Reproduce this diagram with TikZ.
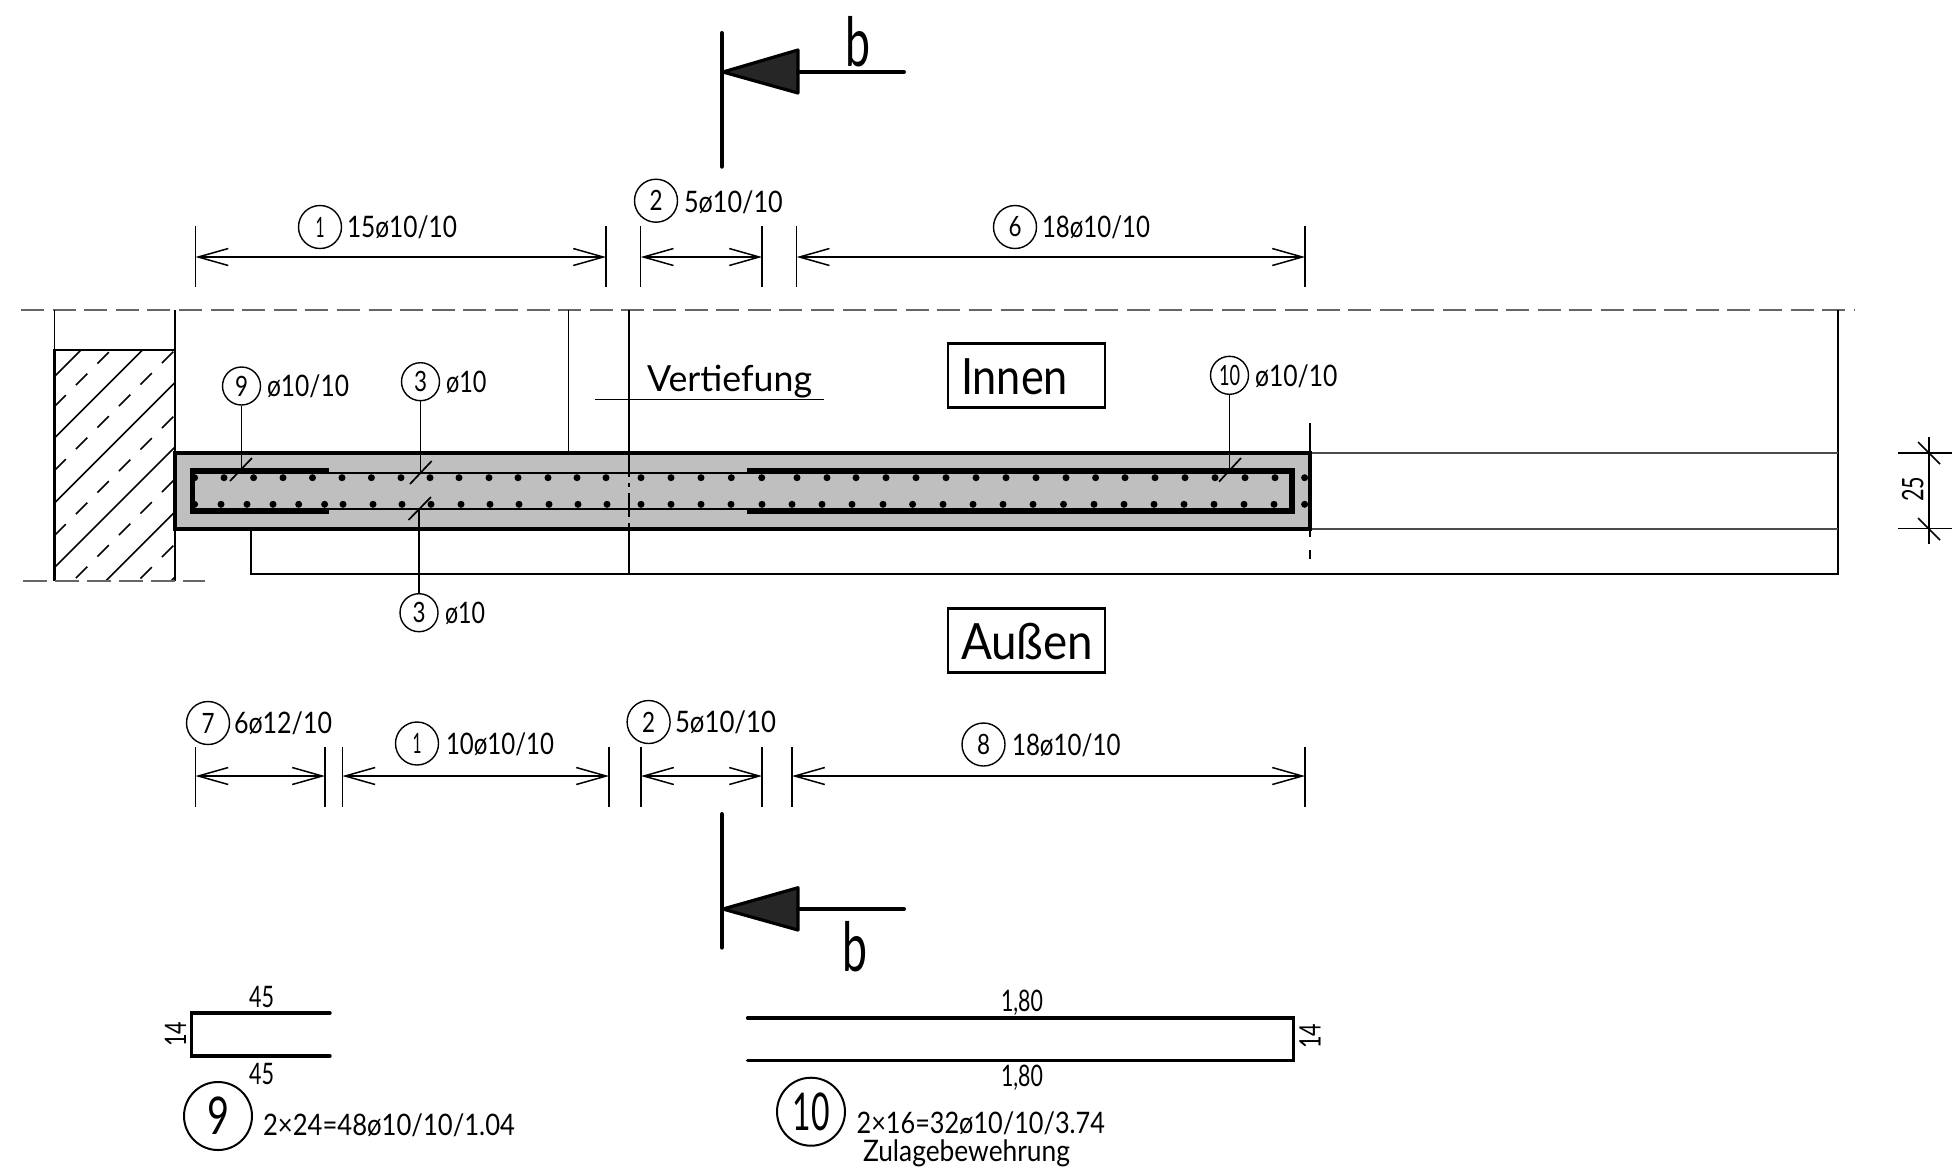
\documentclass[tikz,border=0pt]{standalone}
\usepackage{fontspec}
\usepackage{graphicx}
\usetikzlibrary{arrows.meta}
\setmainfont{Lato}
\newdimen\pxu \pxu=0.5pt
\newcommand\txtat[5]{\node[txt,font=\fontsize{#4}{#4}\selectfont,anchor=base west] (#1) at #2 {\resizebox{#3\pxu}{\height}{#5}};}
\newcommand\smalltxt[4]{\txtat{#1}{#2}{#3}{14.8pt}{#4}}
\newcommand\cn[2]{\resizebox{#1\pxu}{\height}{#2}}
\newcommand\dimh[5]{%
  \draw[thinl] (#1,#4) -- (#1,#5);
  \draw[thinl] (#2,#4) -- (#2,#5);
  \draw[thinl,{Straight Barb[length=15pt,width=8.5pt]}-{Straight Barb[length=15pt,width=8.5pt]}] (#1,#3) -- (#2,#3);}
\begin{document}
\begin{tikzpicture}[x=0.5pt,y=-0.5pt,
  txt/.style={inner sep=0pt,outer sep=0pt},
  thinl/.style={line width=0.75pt},
  posc/.style={draw,circle,inner sep=0pt,minimum size=21.5pt,line width=0.7pt,font=\fontsize{14pt}{14pt}\selectfont},
  bigpos/.style={draw,circle,inner sep=0pt,minimum size=34pt,line width=1pt,font=\fontsize{26pt}{26pt}\selectfont},
  lpos/.style={draw,circle,inner sep=0pt,minimum size=19pt,line width=0.7pt,font=\fontsize{14pt}{14pt}\selectfont},
  cl/.style={line width=1pt,draw=black!60,dash pattern=on 11.5pt off 4.3pt},
  labbox/.style={draw,line width=1.1pt,inner sep=0pt,minimum width=78.5pt,minimum height=32pt},
  schedtxt/.style={txt,font=\fontsize{14.8pt}{14.8pt}\selectfont},
]
\useasboundingbox (0,0) rectangle (1952,1169);
% slab
\fill[black!25] (175,453) rectangle (1310,529);
% wall hatch
\begin{scope}
  \clip (54.5,350) rectangle (175,581);
  \foreach \s in {431,492.5,557.5,622,686.7,752}
    \draw[line width=0.85pt] (54.5,\s-54.5) -- +(240,-240);
  \foreach \s in {461,525,590,654,719}
    \draw[line width=0.75pt,dash pattern=on 8pt off 7.2pt] (54.5,\s-54.5) -- +(240,-240);
\end{scope}
\draw[line width=1.1pt] (54.5,581) -- (54.5,350) -- (175,350) -- (175,581);
\draw[line width=1pt,draw=black!60,dash pattern=on 12pt off 4pt] (23,581) -- (205,581);
% top centre line and verticals
\draw[cl] (21,310) -- (1855,310);
\draw[thinl] (54.5,310) -- (54.5,350);
\draw[thinl] (175,310) -- (175,350);
\draw[thinl] (568.3,310) -- (568.3,453);
\draw[thinl] (629,310) -- (629,453);
\draw[thinl,dash pattern=on 12pt off 3pt on 2pt off 3pt] (629,453) -- (629,529);
\draw[thinl] (629,529) -- (629,574);
\draw[thinl] (251,529) -- (251,574) -- (1838,574) -- (1838,310);
\draw[line width=0.6pt,black!70] (1310,453) -- (1838,453);
\draw[line width=0.6pt,black!70] (1310,529) -- (1838,529);
\draw[line width=0.6pt] (1310,423) -- (1310,453);
\draw[line width=0.6pt] (1310,529) -- (1310,537);
\draw[line width=0.6pt] (1310,550) -- (1310,559);
% slab outline
\draw[line width=1.7pt] (175,453) rectangle (1310,529);
% inner bars
\draw[line width=0.8pt] (1290,473) -- (194.6,473) -- (194.6,509) -- (1290,509) -- cycle;
\draw[line width=2.1pt] (329,470) -- (192,470) -- (192,511.7) -- (329,511.7);
\draw[line width=2.1pt] (747,470) -- (1292.5,470) -- (1292.5,511.7) -- (747,511.7);
% dots
\foreach \x in {194.6,224,253.6,283,312.5,342,371.4,401,430,459,489,518,548,577,606,641,671,701,731.3,761.7,797,827,856,886,916,946,976,1006,1036,1066,1095.6,1125,1155,1185,1215,1245,1275,1304.6}
  \fill (\x,477.7) circle (3.5);
\foreach \x in {194.6,221,247,273,298.7,324.6,343,373,402,431,461,490,519,549,578,607,641,671,701,731,762,792,822,852,883,912.6,943,973,1003,1033,1063.5,1094,1124,1154,1184,1214,1244,1274,1304.6}
  \fill (\x,504.3) circle (3.5);
% position leaders
\node[lpos] (p9) at (241.5,386) {\cn{13}{9}};
\node[lpos] (p3a) at (420.5,381.7) {\cn{13}{3}};
\node[lpos] (p3b) at (419,612.7) {\cn{13}{3}};
\node[lpos] (p10) at (1229.5,375.3) {\cn{21}{10}};
\coordinate (e9) at (241.5,470);
\coordinate (e3a) at (420.5,473);
\coordinate (e3b) at (419,509);
\coordinate (e10) at (1229.5,470);
\draw[thinl] (p9) -- (e9);
\draw[thinl] (p3a) -- (e3a);
\draw[thinl] (p3b) -- (e3b);
\draw[thinl] (p10) -- (e10);
\draw[line width=0.85pt] (230,481) -- (252,458);
\draw[line width=0.85pt] (410,484) -- (431.7,461);
\draw[line width=0.85pt] (408.5,520) -- (431,497);
\draw[line width=0.85pt] (1219,481.7) -- (1241,458);
\smalltxt{t9}{(267,396.5)}{82}{ø10/10}
\smalltxt{t3a}{(446,392.5)}{40.5}{ø10}
\smalltxt{t3b}{(445,623.5)}{40}{ø10}
\smalltxt{t10}{(1255,386)}{82.5}{ø10/10}
% labels
\txtat{tv}{(647,391)}{165}{18pt}{Vertiefung}
\coordinate (ua) at (594.6,399.7);
\coordinate (ub) at (823.7,399.7);
\draw[thinl] (ua) -- (ub);
\node[labbox] (bi) at (1026.5,375.5) {};
\node[labbox] (ba) at (1026.5,640.5) {};
\txtat{ti}{(961,394)}{107}{25pt}{Innen}
\txtat{ta}{(961,659)}{132}{25pt}{Außen}
% top dims
\dimh{195.5}{606}{257}{226}{287}
\dimh{640.7}{762}{257}{226}{287}
\dimh{796.7}{1305}{257}{226}{287}
\node[posc] (d1) at (320,227) {\cn{9}{1}};
\smalltxt{td1}{(347,237.5)}{110}{15ø10/10}
\node[posc] (d2) at (656,200.7) {\cn{13}{2}};
\smalltxt{td2}{(684,212)}{98.7}{5ø10/10}
\node[posc] (d6) at (1015,227) {\cn{13}{6}};
\smalltxt{td6}{(1042,237.5)}{108}{18ø10/10}
% bottom dims
\dimh{195.5}{325}{776}{747}{807}
\dimh{342.4}{609}{776}{747}{807}
\dimh{641}{762}{776}{747}{807}
\dimh{792}{1305}{776}{747}{807}
\node[posc] (d7) at (208,723) {\cn{13}{7}};
\smalltxt{td7}{(234,733.5)}{98}{6ø12/10}
\node[posc] (d1b) at (417,743.5) {\cn{9}{1}};
\smalltxt{td1b}{(446,754.5)}{108}{10ø10/10}
\node[posc] (d2b) at (648.6,722) {\cn{13}{2}};
\smalltxt{td2b}{(675,732.5)}{101}{5ø10/10}
\node[posc] (d8) at (983.5,744.5) {\cn{13}{8}};
\smalltxt{td8}{(1012,755.5)}{108.5}{18ø10/10}
% section marks
\draw[line width=2pt,line cap=round] (721.7,33) -- (721.7,166.7);
\draw[line width=1.6pt,line join=round,fill=black!85] (723,72) -- (798,50) -- (798,93) -- cycle;
\draw[line width=2pt,line cap=round] (798,72) -- (904,72);
\txtat{bt}{(845,66)}{25}{34pt}{b}
\draw[line width=2pt,line cap=round] (721.7,814) -- (721.7,947.6);
\draw[line width=1.6pt,line join=round,fill=black!85] (723,909) -- (798,887.7) -- (798,930) -- cycle;
\draw[line width=2pt,line cap=round] (798,909) -- (904,909);
\txtat{bb}{(842,971)}{25}{34pt}{b}
% right dim
\draw[thinl] (1929,437) -- (1929,544);
\draw[thinl] (1898,453) -- (1952,453);
\draw[thinl] (1898,528.5) -- (1952,528.5);
\draw[thinl] (1918,442) -- (1940,464);
\draw[thinl] (1918,518) -- (1940,540);
\node[schedtxt,rotate=90] (t25) at (1912.7,489) {\cn{25}{25}};
% schedules
\draw[line width=1.7pt,line cap=round] (330,1013) -- (191.5,1013) -- (191.5,1056) -- (330,1056);
\node[schedtxt] (s45a) at (261.6,997) {\cn{25}{45}};
\node[schedtxt] (s45b) at (261.6,1074) {\cn{25}{45}};
\node[schedtxt,rotate=90] (s14a) at (175.5,1034) {\cn{25}{14}};
\node[bigpos] (n9) at (218,1116) {\cn{22}{9}};
\smalltxt{t9s}{(263,1135.5)}{252}{2×24=48ø10/10/1.04}
\draw[line width=1.7pt,line cap=round] (747.6,1018) -- (1293.6,1018) -- (1293.6,1060.7) -- (747.6,1060.7);
\node[schedtxt] (s18a) at (1022,1003) {\cn{42}{1,80}};
\node[schedtxt] (s18b) at (1022,1078) {\cn{42}{1,80}};
\node[schedtxt,rotate=90] (s14b) at (1310,1036) {\cn{25}{14}};
\node[bigpos] (n10) at (811,1111.7) {\cn{37}{10}};
\smalltxt{t10s}{(856.6,1133.5)}{248.4}{2×16=32ø10/10/3.74}
\smalltxt{tz}{(863,1161)}{207}{Zulagebewehrung}
\end{tikzpicture}
\end{document}
